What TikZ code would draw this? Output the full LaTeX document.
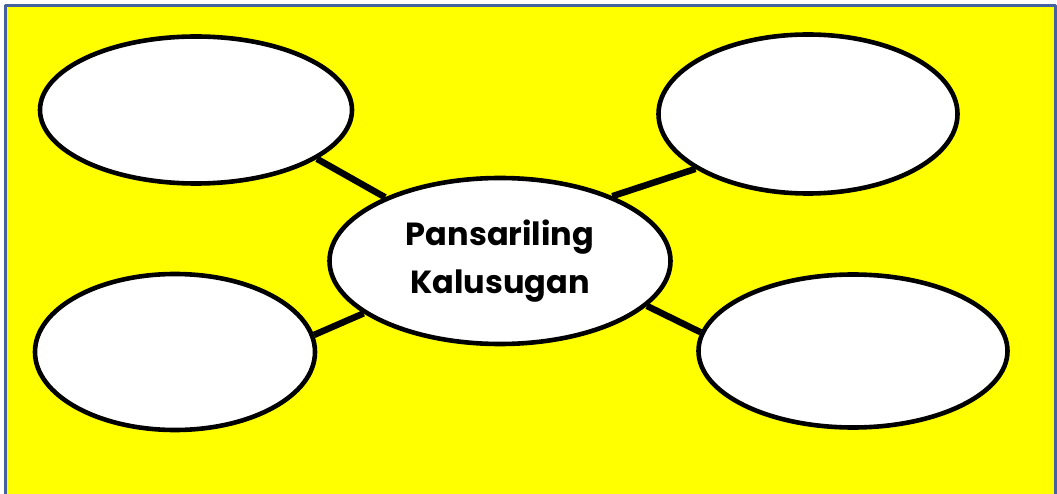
\documentclass[tikz,border=0pt]{standalone}
\usepackage{fontspec}
\setmainfont{Poppins}
\usetikzlibrary{shapes.geometric}
\definecolor{frameblue}{RGB}{68,98,160}
\definecolor{sunyellow}{RGB}{255,255,0}
\begin{document}
\begin{tikzpicture}[x=1pt,y=-1pt,line join=round,
  bubble/.style={ellipse,draw,line width=4.6pt,fill=white,inner sep=0pt},
  link/.style={line width=6.5pt}]
\useasboundingbox (0,0) rectangle (1057,494);
\fill[sunyellow] (5,6) rectangle (1055,494);
\draw[frameblue,line width=3pt] (5,494) -- (5,6) -- (1055,6) -- (1055,494);
\node[bubble,minimum width=312pt,minimum height=147pt] (tl) at (196,110) {};
\node[bubble,minimum width=299pt,minimum height=159pt] (tr) at (808,114) {};
\node[bubble,minimum width=280pt,minimum height=156pt] (bl) at (175,352) {};
\node[bubble,minimum width=309pt,minimum height=153pt] (br) at (853,351) {};
\node[bubble,minimum width=341pt,minimum height=166pt,align=center,
  font=\bfseries\fontsize{32}{48}\selectfont] (kal) at (500,261) {Pansariling\\Kalusugan};
\draw[link] (tl.-22.6) -- (kal.151.5);
\draw[link] (kal.30) -- (tr.206);
\draw[link] (bl.7.7) -- (kal.201);
\draw[link] (kal.-17.7) -- (br.173);
\end{tikzpicture}
\end{document}
